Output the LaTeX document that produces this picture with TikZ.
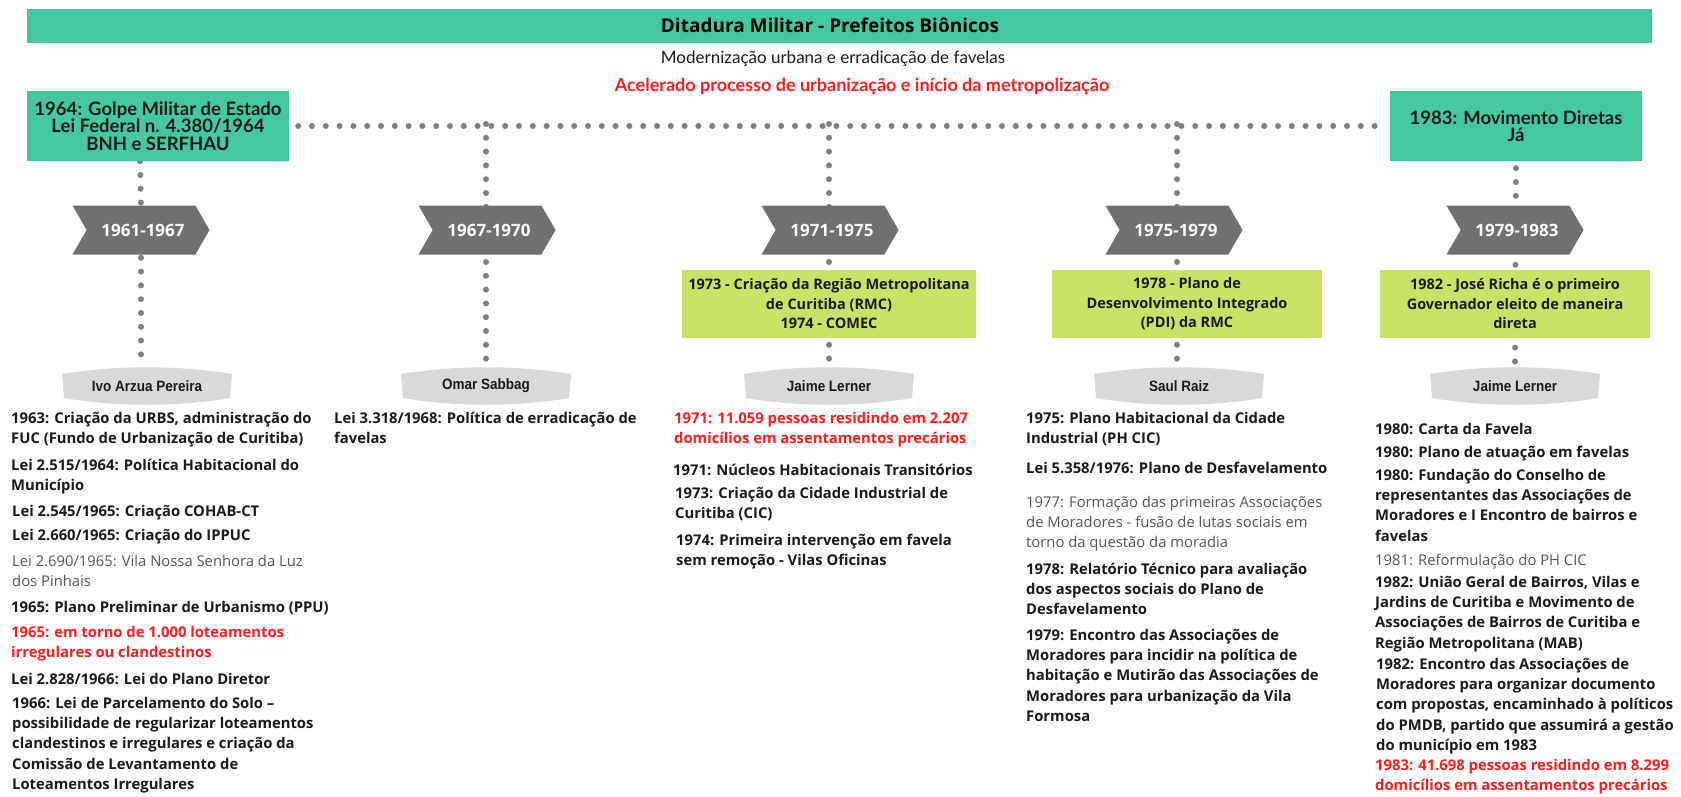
\documentclass[tikz,border=0pt]{standalone}
\usepackage{fontspec}
\setmainfont{Open Sans}
\newfontfamily\condfont{Lato}
\newfontfamily\lensfont[FakeStretch=0.9]{Liberation Sans}
\usetikzlibrary{shapes.symbols,backgrounds,calc}
\definecolor{teal}{RGB}{69,200,160}
\definecolor{limeg}{RGB}{201,226,101}
\definecolor{chevgray}{RGB}{112,112,112}
\definecolor{dotgray}{RGB}{128,128,128}
\definecolor{lensgray}{RGB}{217,217,217}
\definecolor{redt}{RGB}{255,28,28}
\definecolor{regt}{RGB}{85,85,85}
\definecolor{blackt}{RGB}{26,26,26}
\tikzset{
  dotline/.style={draw=dotgray, line width=6pt, line cap=round, dash pattern=on 0pt off 13.8pt},
  tealbox/.style={fill=teal, inner sep=0pt, minimum height=70pt, align=center, text=blackt,
    font=\condfont\bfseries\fontsize{18.5}{17.5}\selectfont},
  chev/.style={shape=signal, signal to=east, signal from=west, signal pointer angle=120,
    fill=chevgray, minimum width=137pt, minimum height=49pt, inner sep=0pt, text=white,
    font=\bfseries\fontsize{17}{20}\selectfont},
  greenbox/.style={fill=limeg, inner sep=0pt, minimum height=68pt, align=center, text=blackt,
    font=\bfseries\fontsize{14.5}{19.5}\selectfont},
  lens/.style={minimum width=170pt, minimum height=40pt, inner sep=0pt, text=blackt,
    font=\lensfont\bfseries\fontsize{15}{18}\selectfont,
    path picture={\fill[lensgray]
      ([yshift=-8pt]path picture bounding box.north west)
      .. controls ([xshift=55pt,yshift=1pt]path picture bounding box.north west)
      and ([xshift=-55pt,yshift=1pt]path picture bounding box.north east)
      .. ([yshift=-8pt]path picture bounding box.north east)
      -- ([xshift=-2pt,yshift=8pt]path picture bounding box.south east)
      .. controls ([xshift=-55pt,yshift=-1pt]path picture bounding box.south east)
      and ([xshift=55pt,yshift=-1pt]path picture bounding box.south west)
      .. ([xshift=2pt,yshift=8pt]path picture bounding box.south west) -- cycle;}},
  item/.style={anchor=base west, align=left, inner sep=0pt, text=blackt,
    font=\bfseries\fontsize{14.8}{20.4}\selectfont},
  itemreg/.style={item, text=regt, font=\fontsize{14.8}{20.4}\selectfont},
  itemred/.style={item, text=redt}
}
\begin{document}
\begin{tikzpicture}[x=1pt,y=1pt]
\useasboundingbox (0,0) rectangle (1681,-796);
% header
\node[fill=teal, minimum width=1625pt, minimum height=34pt, inner sep=0pt] (banner) at (839.5,-26) {};
\node[font=\bfseries\fontsize{19}{22}\selectfont, text=black] (title) at (830,-25) {Ditadura Militar - Prefeitos Biônicos};
\node[font=\condfont\fontsize{17}{20}\selectfont, text=blackt] (sub1) at (833,-59) {Modernização urbana e erradicação de favelas};
\node[font=\condfont\bfseries\fontsize{18}{20}\selectfont, text=redt] (sub2) at (862,-86) {Acelerado processo de urbanização e início da metropolização};
% top boxes
\node[tealbox, minimum width=262pt] (b64) at (158,-126) {1964: Golpe Militar de Estado\\Lei Federal n. 4.380/1964\\BNH e SERFHAU};
\node[tealbox, minimum width=252pt] (b83) at (1516,-126) {1983: Movimento Diretas\\Já};
% chevrons
\node[chev] (ch1) at (141,-230) {\hspace*{4pt}1961-1967};
\node[chev] (ch2) at (487,-230) {\hspace*{4pt}1967-1970};
\node[chev] (ch3) at (830,-230) {\hspace*{4pt}1971-1975};
\node[chev] (ch4) at (1174,-230) {\hspace*{4pt}1975-1979};
\node[chev] (ch5) at (1515,-230) {\hspace*{4pt}1979-1983};
% green boxes
\node[greenbox, minimum width=294pt] (g3) at (829,-304) {1973 - Criação da Região Metropolitana\\de Curitiba (RMC)\\1974 - COMEC};
\node[greenbox, minimum width=270pt] (g4) at (1187,-304) {1978 - Plano de\\Desenvolvimento Integrado\\(PDI) da RMC};
\node[greenbox, minimum width=270pt] (g5) at (1515,-304) {1982 - José Richa é o primeiro\\Governador eleito de maneira\\direta};
% lenses
\node[lens] (l1) at (147,-386) {Ivo Arzua Pereira};
\node[lens] (l2) at (486,-386) {Omar Sabbag};
\node[lens] (l3) at (829,-386) {Jaime Lerner};
\node[lens] (l4) at (1179,-386) {Saul Raiz};
\node[lens] (l5) at (1515,-386) {Jaime Lerner};
% connectors
\coordinate (t2) at (486,-124);
\coordinate (t3) at (829,-124);
\coordinate (t4) at (1177,-124);
\begin{pgfonlayer}{background}
\draw[dotline] (b64.east) ++(9,0) -- ([xshift=-6pt]b83.west);
\draw[dotline] ([xshift=-18pt]b64.south) -- (ch1.north) -- ([xshift=-6pt]l1.north);
\draw[dotline] (t2) -- (l2.north);
\draw[dotline] (t3) -- (l3.north);
\draw[dotline] (t4) -- (l4.north -| t4);
\draw[dotline] ([yshift=-7pt]b83.south) -- (l5.north);
\end{pgfonlayer}
% column 1 (anchors at the baseline of the last line)
\node[item] (c1a) at (11,-443.4) {1963: Criação da URBS, administração do\\FUC (Fundo de Urbanização de Curitiba)};
\node[item] (c1b) at (11,-490.4) {Lei 2.515/1964: Política Habitacional do\\Município};
\node[item] (c1c) at (12,-516) {Lei 2.545/1965: Criação COHAB-CT};
\node[item] (c1d) at (12,-540) {Lei 2.660/1965: Criação do IPPUC};
\node[itemreg] (c1e) at (12,-586.4) {Lei 2.690/1965: Vila Nossa Senhora da Luz\\dos Pinhais};
\node[item] (c1f) at (11,-612) {1965: Plano Preliminar de Urbanismo (PPU)};
\node[itemred] (c1g) at (11,-657.4) {1965: em torno de 1.000 loteamentos\\irregulares ou clandestinos};
\node[item] (c1h) at (11,-684) {Lei 2.828/1966: Lei do Plano Diretor};
\node[item] (c1i) at (12,-789.6) {1966: Lei de Parcelamento do Solo –\\possibilidade de regularizar loteamentos\\clandestinos e irregulares e criação da\\Comissão de Levantamento de\\Loteamentos Irregulares};
% column 2
\node[item] (c2a) at (334,-443.4) {Lei 3.318/1968: Política de erradicação de\\favelas};
% column 3
\node[itemred] (c3a) at (674,-443.4) {1971: 11.059 pessoas residindo em 2.207\\domicílios em assentamentos precários};
\node[item] (c3b) at (673,-475) {1971: Núcleos Habitacionais Transitórios};
\node[item] (c3c) at (675,-518.4) {1973: Criação da Cidade Industrial de\\Curitiba (CIC)};
\node[item] (c3d) at (676,-565.4) {1974: Primeira intervenção em favela\\sem remoção - Vilas Oficinas};
% column 4
\node[item] (c4a) at (1026,-443.4) {1975: Plano Habitacional da Cidade\\Industrial (PH CIC)};
\node[item] (c4b) at (1026,-473) {Lei 5.358/1976: Plano de Desfavelamento};
\node[itemreg] (c4c) at (1026,-547.8) {1977: Formação das primeiras Associações\\de Moradores - fusão de lutas sociais em\\torno da questão da moradia};
\node[item] (c4d) at (1026,-614.8) {1978: Relatório Técnico para avaliação\\dos aspectos sociais do Plano de\\Desfavelamento};
\node[item] (c4e) at (1026,-721.6) {1979: Encontro das Associações de\\Moradores para incidir na política de\\habitação e Mutirão das Associações de\\Moradores para urbanização da Vila\\Formosa};
% column 5
\node[item] (c5a) at (1375,-434) {1980: Carta da Favela};
\node[item] (c5b) at (1375,-457) {1980: Plano de atuação em favelas};
\node[item] (c5c) at (1375,-541.2) {1980: Fundação do Conselho de\\representantes das Associações de\\Moradores e I Encontro de bairros e\\favelas};
\node[itemreg] (c5d) at (1375,-565) {1981: Reformulação do PH CIC};
\node[item] (c5e) at (1375,-648.2) {1982: União Geral de Bairros, Vilas e\\Jardins de Curitiba e Movimento de\\Associações de Bairros de Curitiba e\\Região Metropolitana (MAB)};
\node[item] (c5f) at (1376,-750.6) {1982: Encontro das Associações de\\Moradores para organizar documento\\com propostas, encaminhado à políticos\\do PMDB, partido que assumirá a gestão\\do município em 1983};
\node[itemred] (c5g) at (1375,-790.4) {1983: 41.698 pessoas residindo em 8.299\\domicílios em assentamentos precários};
\end{tikzpicture}
\end{document}
